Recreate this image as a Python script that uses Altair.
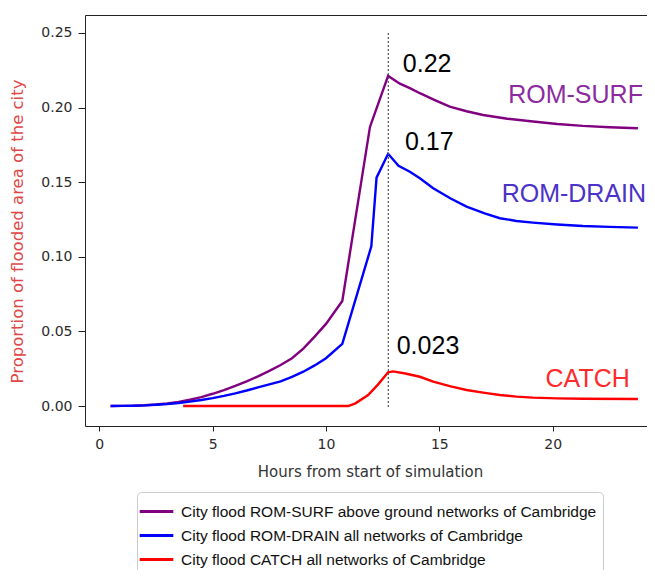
import altair as alt
import pandas as pd

# ---------------- data ----------------
SURF = "City flood ROM-SURF above ground networks of Cambridge"
DRAIN = "City flood ROM-DRAIN all networks of Cambridge"
CATCH = "City flood CATCH all networks of Cambridge"
series_names = [SURF, DRAIN, CATCH]
series_colors = ["#800080", "#0000ff", "#ff0000"]

surf_hours = [0.5, 1.0, 1.5, 2.0, 2.5, 3.0, 3.5, 4.0, 4.5, 5.0, 5.5, 6.0, 6.5, 7.0,
              7.5, 8.0, 8.5, 9.0, 9.5, 10.0, 10.72, 11.94, 12.74, 13.26, 13.7,
              14.14, 14.8, 15.46, 16.2, 16.93, 18.0, 19.13, 20.2, 21.33, 22.5, 23.76]
surf_vals = [0.0, 0.0001, 0.0002, 0.0005, 0.001, 0.0017, 0.0027, 0.0042, 0.006,
             0.0082, 0.0107, 0.0135, 0.0165, 0.0198, 0.0235, 0.0275, 0.032, 0.0385,
             0.0465, 0.055, 0.0704, 0.187, 0.2212, 0.216, 0.213, 0.2096, 0.205,
             0.2006, 0.1975, 0.195, 0.1925, 0.1906, 0.189, 0.1877, 0.1868, 0.1861]

drain_hours = [0.5, 1.0, 1.5, 2.0, 2.5, 3.0, 3.5, 4.0, 4.5, 5.0, 5.5, 6.0, 6.5, 7.0,
               7.5, 8.0, 8.5, 9.0, 9.5, 10.0, 10.72, 12.0, 12.23, 12.74, 13.2, 13.7,
               14.14, 14.73, 15.5, 16.2, 17.0, 17.67, 18.4, 19.13, 20.2, 21.33, 22.5, 23.76]
drain_vals = [0.0, 0.0001, 0.0002, 0.0004, 0.0008, 0.0013, 0.002, 0.0029, 0.004,
              0.0053, 0.0068, 0.0085, 0.0104, 0.0125, 0.0145, 0.0165, 0.0195, 0.023,
              0.0272, 0.032, 0.0416, 0.107, 0.153, 0.169, 0.161, 0.157, 0.1526,
              0.1459, 0.139, 0.1336, 0.129, 0.1258, 0.124, 0.1229, 0.1216, 0.1206,
              0.12, 0.1195]

catch_hours = [3.7, 10.98, 11.3, 11.86, 12.3, 12.74, 12.96, 13.5, 14.14, 14.73, 15.5,
               16.2, 17.0, 17.67, 18.4, 19.13, 20.2, 21.33, 23.76]
catch_vals = [0.0, 0.0, 0.0018, 0.0074, 0.0145, 0.0226, 0.0232, 0.0218, 0.0196,
              0.0163, 0.0132, 0.0107, 0.0088, 0.0074, 0.0063, 0.0056, 0.0051,
              0.0049, 0.0047]

peak_hour = [12.75]
peak_rule_top = [0.25]
peak_rule_bottom = [-0.0015]

value_texts = ["0.22", "0.17", "0.023"]
value_x = [13.39, 13.48, 13.12]
value_y = [0.2239, 0.1713, 0.0349]

name_texts = ["ROM-SURF", "ROM-DRAIN", "CATCH"]
name_x = [23.98, 24.12, 23.40]
name_y = [0.2027, 0.1364, 0.0130]
name_colors = ["#8b2b9e", "#4b32c8", "#ff2a2a"]

x_ticks = [0, 5, 10, 15, 20]
y_ticks = [0.0, 0.05, 0.10, 0.15, 0.20, 0.25]
x_domain = [-0.63, 24.16]
y_domain = [-0.0134, 0.262]

# ---------------- tables ----------------
rows = []
for name, hs, vs in [(SURF, surf_hours, surf_vals),
                     (DRAIN, drain_hours, drain_vals),
                     (CATCH, catch_hours, catch_vals)]:
    for h, v in zip(hs, vs):
        rows.append({"series": name, "hours": h, "value": v})
lines_df = pd.DataFrame(rows)

rule_df = pd.DataFrame({"hours": peak_hour, "top": peak_rule_top, "bottom": peak_rule_bottom})
val_df = pd.DataFrame({"t": value_texts, "hours": value_x, "value": value_y})
name_df = pd.DataFrame({"t": name_texts, "hours": name_x, "value": name_y, "c": name_colors})

xscale = alt.Scale(domain=x_domain, nice=False, zero=False)
yscale = alt.Scale(domain=y_domain, nice=False, zero=False)

x_axis = alt.Axis(values=x_ticks, tickSize=5, labelPadding=6, labelFlush=False,
                  title="Hours from start of simulation", titleFontSize=15,
                  titleColor="#333333", titleX=285, titleY=50, titleAlign="center",
                  titleBaseline="alphabetic")
y_axis = alt.Axis(values=y_ticks, format=".2f", tickSize=7, labelPadding=6,
                  title="Proportion of flooded area of the city", titleFontSize=16.5,
                  titleColor="#e04848", titleX=-68, titleY=216, titleAngle=270,
                  titleAlign="center", titleBaseline="middle")
top_axis = alt.Axis(orient="top", labels=False, ticks=False, title=None, domain=True)

lines = alt.Chart(lines_df).mark_line(strokeWidth=2.4).encode(
    x=alt.X("hours:Q", scale=xscale, axis=x_axis),
    y=alt.Y("value:Q", scale=yscale, axis=y_axis),
    color=alt.Color("series:N",
                    scale=alt.Scale(domain=series_names, range=series_colors),
                    legend=alt.Legend(orient="none", legendX=52, legendY=477, title=None,
                                      symbolType="M-1.4,0H1.4", symbolSize=576,
                                      symbolStrokeWidth=3, labelFontSize=15.5,
                                      labelFont="Liberation Sans", labelColor="#111111",
                                      labelOffset=11, rowPadding=2, padding=6,
                                      strokeColor="#cccccc", cornerRadius=4,
                                      fillColor="white", labelLimit=600)),
    order="hours:Q",
)

rule = alt.Chart(rule_df).mark_rule(strokeDash=[2, 2], color="#555555", strokeWidth=1.2).encode(
    x=alt.X("hours:Q", scale=xscale, axis=top_axis),
    y=alt.Y("top:Q", scale=yscale, axis=y_axis),
    y2="bottom:Q",
)

vals = alt.Chart(val_df).mark_text(align="left", baseline="alphabetic",
                                   font="Liberation Sans", fontSize=25,
                                   color="black").encode(
    x=alt.X("hours:Q", scale=xscale, axis=None),
    y=alt.Y("value:Q", scale=yscale, axis=y_axis),
    text="t:N",
)

names = alt.Chart(name_df).mark_text(align="right", baseline="alphabetic",
                                     font="Liberation Sans", fontSize=25).encode(
    x=alt.X("hours:Q", scale=xscale, axis=None),
    y=alt.Y("value:Q", scale=yscale, axis=y_axis),
    text="t:N",
    fill=alt.Fill("c:N", scale=None),
)

chart = alt.layer(lines, rule, vals, names).resolve_axis(x="independent").properties(
    width=562, height=411,
    autosize=alt.AutoSizeParams(type="none"),
    padding={"left": 77, "top": 7, "right": 0, "bottom": 144},
).configure_view(stroke=None).configure_axis(
    grid=False, domainColor="#222222", tickColor="#222222", domainWidth=1,
    labelFont="DejaVu Sans", labelFontSize=14, labelColor="#2a2a2a",
    titleFont="DejaVu Sans", titleFontWeight="normal",
)

chart.save("out.html", embed_options={"renderer": "svg", "actions": False})
